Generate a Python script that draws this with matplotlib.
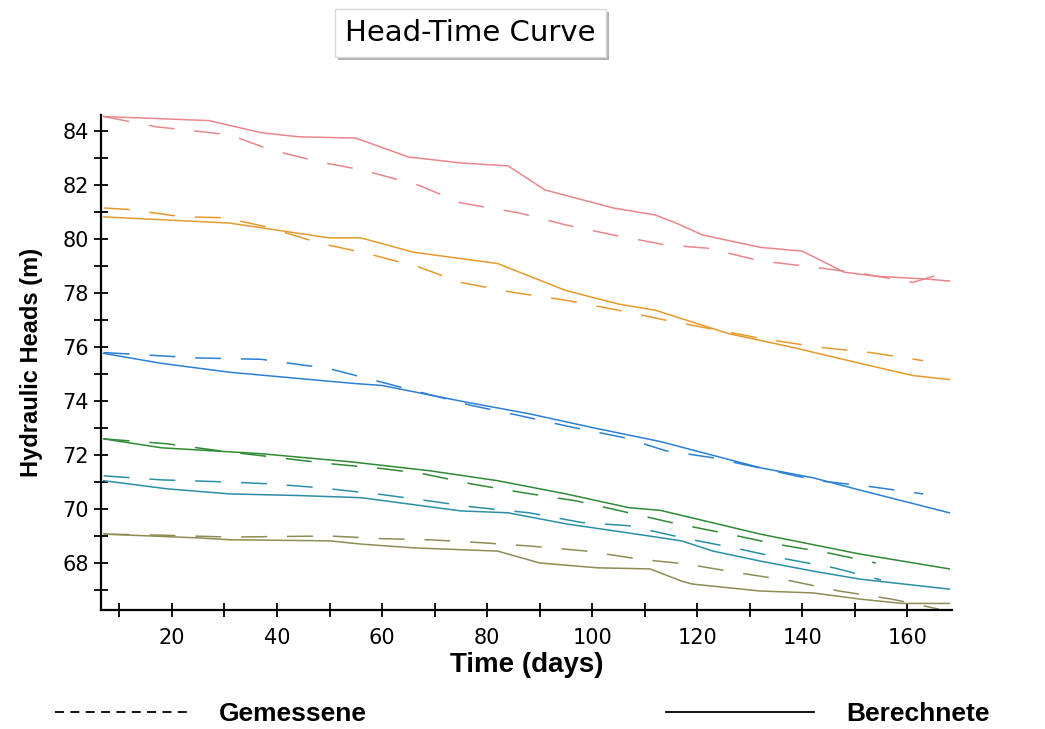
import matplotlib as mpl
import matplotlib.pyplot as plt
import matplotlib.patheffects as pe
from matplotlib.lines import Line2D
from matplotlib.ticker import MultipleLocator

# data
pink_calc_t = [7, 27, 37, 44, 55, 65, 75, 84, 91, 104, 112, 116, 121, 132, 140, 148, 154, 164, 168]
pink_calc_h = [84.55, 84.4, 83.95, 83.8, 83.75, 83.05, 82.83, 82.72, 81.83, 81.16, 80.9, 80.6, 80.16, 79.7, 79.56, 78.78, 78.63, 78.52, 78.45]
pink_meas_t = [7, 17, 31, 39, 49, 56, 67, 75, 86, 95, 104, 114, 122, 132, 142, 151, 161, 168]
pink_meas_h = [84.55, 84.17, 83.87, 83.3, 82.83, 82.58, 82.0, 81.35, 80.98, 80.53, 80.16, 79.79, 79.67, 79.2, 78.97, 78.74, 78.4, 78.8]

orange_calc_t = [7, 31, 50, 56, 66, 82, 95, 105, 112, 126, 138, 151, 161, 168]
orange_calc_h = [80.83, 80.6, 80.05, 80.05, 79.52, 79.1, 78.1, 77.6, 77.37, 76.5, 76.0, 75.4, 74.95, 74.8]
orange_meas_t = [7, 12, 22, 30, 38, 48, 57, 67, 75, 85, 95, 105, 114, 132, 143, 153, 163]
orange_meas_h = [81.16, 81.1, 80.83, 80.8, 80.46, 79.86, 79.48, 78.97, 78.4, 78.03, 77.74, 77.37, 77.0, 76.33, 76.0, 75.8, 75.5]

blue_calc_t = [7, 18, 31, 48, 55, 60, 75, 88, 101, 113, 132, 142, 151, 168]
blue_calc_h = [75.77, 75.4, 75.07, 74.77, 74.65, 74.58, 74.0, 73.53, 72.98, 72.5, 71.53, 71.16, 70.7, 69.86]
blue_meas_t = [7, 16, 25, 37, 50, 77, 86, 96, 106, 114, 123, 143, 153, 163]
blue_meas_h = [75.8, 75.7, 75.6, 75.55, 75.2, 73.84, 73.47, 73.04, 72.65, 72.16, 71.9, 71.05, 70.83, 70.56]

green_calc_t = [7, 18, 37, 54, 69, 82, 95, 107, 113, 132, 151, 168]
green_calc_h = [72.6, 72.27, 72.05, 71.75, 71.42, 71.05, 70.56, 70.05, 69.95, 69.07, 68.33, 67.78]
green_meas_t = [7, 19, 29, 50, 60, 68, 77, 87, 97, 107, 115, 126, 135, 145, 154]
green_meas_h = [72.6, 72.42, 72.16, 71.68, 71.5, 71.3, 70.93, 70.6, 70.3, 69.86, 69.5, 69.07, 68.7, 68.37, 68.0]

teal_calc_t = [7, 19, 31, 44, 56, 75, 84, 95, 107, 117, 123, 132, 142, 151, 168]
teal_calc_h = [71.05, 70.75, 70.56, 70.5, 70.42, 69.93, 69.86, 69.45, 69.11, 68.82, 68.44, 68.07, 67.7, 67.4, 67.03]
teal_meas_t = [7, 18, 31, 39, 48, 59, 69, 77, 88, 98, 107, 118, 127, 136, 146, 155]
teal_meas_h = [71.23, 71.08, 71.0, 70.93, 70.79, 70.56, 70.3, 70.08, 69.86, 69.5, 69.38, 68.9, 68.56, 68.18, 67.82, 67.37]

olive_calc_t = [7, 25, 31, 50, 56, 66, 82, 90, 101, 111, 117, 119, 132, 142, 151, 159, 168]
olive_calc_h = [69.07, 68.93, 68.86, 68.82, 68.7, 68.56, 68.44, 68.0, 67.82, 67.78, 67.33, 67.22, 66.96, 66.89, 66.66, 66.5, 66.5]
olive_meas_t = [7, 18, 31, 50, 60, 69, 79, 88, 99, 109, 118, 128, 138, 147, 157, 166]
olive_meas_h = [69.07, 69.03, 68.96, 69.0, 68.9, 68.86, 68.75, 68.63, 68.44, 68.14, 67.96, 67.63, 67.33, 66.96, 66.66, 66.29]

series = [
    ('#e8868a', pink_calc_t, pink_calc_h, pink_meas_t, pink_meas_h),
    ('#e49a2c', orange_calc_t, orange_calc_h, orange_meas_t, orange_meas_h),
    ('#2b7fd6', blue_calc_t, blue_calc_h, blue_meas_t, blue_meas_h),
    ('#2f8a35', green_calc_t, green_calc_h, green_meas_t, green_meas_h),
    ('#2a8fa6', teal_calc_t, teal_calc_h, teal_meas_t, teal_meas_h),
    ('#8e8c55', olive_calc_t, olive_calc_h, olive_meas_t, olive_meas_h),
]

title = 'Head-Time Curve'
xlabel = 'Time (days)'
ylabel = 'Hydraulic Heads (m)'
label_meas = 'Gemessene'
label_calc = 'Berechnete'

mpl.rcParams['font.family'] = 'DejaVu Sans'
arial = 'Liberation Sans'

fig = plt.figure(figsize=(10.45, 7.29), dpi=100)
ax = fig.add_axes([0.0967, 0.163, 0.8143, 0.679])

for color, ct, ch, mt, mh in series:
    ax.plot(ct, ch, color=color, lw=1.1)
    ax.plot(mt, mh, color=color, lw=1.1, dashes=(17, 13))

ax.set_xlim(6.5, 168.5)
ax.set_ylim(66.25, 84.6)
ax.xaxis.set_major_locator(MultipleLocator(20))
ax.xaxis.set_minor_locator(MultipleLocator(10))
ax.yaxis.set_major_locator(MultipleLocator(2))
ax.yaxis.set_minor_locator(MultipleLocator(1))
for s in ['top', 'right']:
    ax.spines[s].set_visible(False)
for s in ['left', 'bottom']:
    ax.spines[s].set_linewidth(1.6)
ax.tick_params(which='both', direction='inout', length=9.5, width=1.3, labelsize=15)
ax.tick_params(axis='x', pad=8)
ax.tick_params(axis='y', pad=4)
ax.set_xlabel(xlabel, family=arial, fontweight='bold', fontsize=20, labelpad=3)
ax.set_ylabel(ylabel, family=arial, fontweight='bold', fontsize=17, labelpad=14)

t = fig.text(0.45, 0.955, title, ha='center', va='center', fontsize=21,
             bbox=dict(boxstyle='square,pad=0.35', fc='white', ec='#d8d8d8', lw=1))
t.get_bbox_patch().set_path_effects([pe.withSimplePatchShadow(offset=(2.5, -2.5), shadow_rgbFace='#b0b0b0', alpha=1)])

h_meas = Line2D([], [], color='black', lw=1.3, dashes=(5, 3.5))
h_calc = Line2D([], [], color='black', lw=1.3)
leg_font = dict(family=arial, weight='bold', size=19)
fig.legend([h_meas], [label_meas], loc='center left', bbox_to_anchor=(0.03, 0.02),
           frameon=False, handlelength=5.0, handletextpad=1.2, prop=leg_font)
fig.legend([h_calc], [label_calc], loc='center left', bbox_to_anchor=(0.615, 0.02),
           frameon=False, handlelength=5.6, handletextpad=1.2, prop=leg_font)

fig.savefig('out.png', dpi=100)
